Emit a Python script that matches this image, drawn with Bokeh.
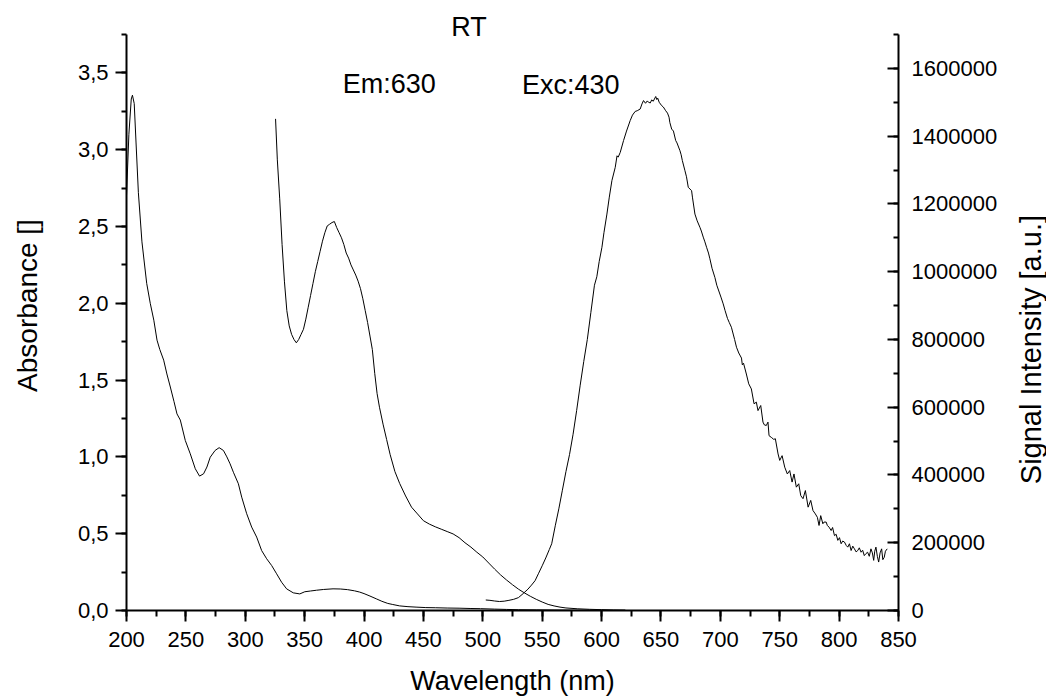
import math
from bokeh.plotting import figure
from bokeh.layouts import row
from bokeh.models import (Range1d, LinearAxis, SingleIntervalTicker,
                          CustomJSTickFormatter, Label)
from bokeh.embed import file_html
from bokeh.resources import INLINE

# ---------------- data ----------------
abs_wl = [200, 202, 204, 205, 206.5, 208, 210, 213, 217, 220, 223, 225.7, 228, 231.3,
          234, 236.9, 240, 242.5, 245.3, 249.5, 253.7, 257.9, 261.5, 264.9, 267.7,
          270.5, 274.6, 278, 281.6, 284.5, 287.2, 290, 294.2, 297, 301.2, 305.4,
          309.6, 313.8, 318, 322.2, 326.4, 330.6, 334.8, 340.4, 345.9, 350.1, 355,
          360, 366, 373.9, 380, 386, 392, 396.3, 400, 405, 410.3, 415, 420, 424.2,
          430, 437, 443.8, 452, 460, 470, 480, 490, 498, 510, 520, 530, 545, 560,
          580, 600, 620]
abs_val = [2.70, 3.10, 3.33, 3.355, 3.30, 3.05, 2.72, 2.40, 2.13, 2.00, 1.89, 1.76,
           1.70, 1.63, 1.54, 1.455, 1.36, 1.28, 1.24, 1.107, 1.02, 0.923, 0.875,
           0.89, 0.934, 0.998, 1.042, 1.06, 1.042, 1.00, 0.955, 0.90, 0.825, 0.738,
           0.63, 0.543, 0.478, 0.39, 0.337, 0.293, 0.239, 0.184, 0.141, 0.115,
           0.108, 0.122, 0.127, 0.132, 0.137, 0.141, 0.140, 0.136, 0.128, 0.120,
           0.110, 0.094, 0.076, 0.060, 0.046, 0.039, 0.030, 0.025, 0.022, 0.019,
           0.018, 0.016, 0.015, 0.013, 0.012, 0.009, 0.007, 0.005, 0.004, 0.003,
           0.002, 0.001, 0.001]

exc_wl = [325.5, 327, 329, 331, 333, 335, 337, 339, 341, 343, 345, 347, 349, 351,
          353, 355, 357, 359, 361, 363, 365, 367, 369, 371, 373, 375, 377, 379,
          381, 383, 385, 387, 389, 391, 393, 395, 397, 399, 401, 403, 405, 407,
          409, 411, 413, 416, 419, 422, 426, 430, 435, 440, 445, 450, 455, 460,
          465, 470, 475, 480, 485, 490, 495, 500, 505, 510, 515, 520, 525, 530,
          535, 540, 545, 550, 555, 560, 565, 570, 580, 590, 600, 610, 620]
exc_val = [1451000, 1330000, 1215000, 1080000, 970000, 885000, 840000, 815000,
           800000, 790000, 800000, 815000, 830000, 860000, 895000, 930000, 965000,
           1000000, 1030000, 1060000, 1090000, 1115000, 1135000, 1140000, 1145000,
           1148000, 1130000, 1115000, 1100000, 1080000, 1055000, 1040000, 1020000,
           1005000, 990000, 972000, 950000, 920000, 885000, 850000, 810000, 770000,
           700000, 640000, 600000, 550000, 505000, 460000, 410000, 375000, 338000,
           305000, 285000, 265000, 255000, 247000, 240000, 233000, 226000, 215000,
           200000, 187000, 172000, 158000, 140000, 122000, 105000, 90000, 76000,
           63000, 52000, 42000, 33000, 25000, 18000, 13500, 10000, 7500, 5000,
           3500, 2500, 1500, 1000]

em_wl = [502.5, 506, 510, 514, 518, 522, 526, 530, 534, 538, 541, 544, 547, 550,
         553, 556, 558, 561, 564, 567, 570, 573, 576, 579, 582, 585, 588, 591,
         594, 596, 598, 600.3, 602, 604.5, 606.5, 608.7, 611.5, 613, 614, 615.7,
         618.5, 621, 624.1, 626, 628.3, 630, 632.5, 634, 635.3, 637, 638.5, 639.5,
         641, 642.2, 643.5, 645.6, 646.5, 647.3, 648.5, 650.6, 652, 654, 655.5,
         656.8, 657.5, 659, 660.5, 662.4, 663.5, 666, 667, 668, 670.2, 671.5, 673,
         675.8, 676.5, 678.6, 680.5, 682.8, 684, 685.6, 687, 688.4, 690, 691.2,
         693, 695.4, 697, 699, 700.5, 702.4, 704, 706, 707.5, 709.3, 710.8, 712,
         713.6, 715.5, 717.8, 718.5, 719.5, 721.9, 723.9, 726.1, 728.4, 730.3,
         731.7, 734, 735.9, 737, 738.7, 740.1, 741, 742.9, 745, 746.3, 748.6, 750,
         752, 754.2, 756.4, 758.4, 760.4, 762, 764, 766, 767.7, 769.6, 771.6,
         773.9, 776.1, 778, 780, 781.7, 783.1, 784.5, 786.3, 787.3, 789.1, 790.1,
         791.5, 793.3, 794.5, 796.1, 797.5, 798.9, 800.3, 801.7, 803, 804.5, 806,
         807.3, 808.7, 810.1, 811.5, 812.9, 814.3, 815.7, 817, 818.5, 819.8,
         821.2, 822.6, 824, 825.4, 826.8, 828, 829.1, 830, 831, 832.2, 833.3,
         834.5, 835.8, 836.8, 838, 839, 840.5]
em_val = [31000, 30000, 28000, 26500, 27500, 30000, 33000, 38000, 50000, 63000,
          75000, 88000, 110000, 132000, 155000, 180000, 197000, 250000, 300000,
          355000, 410000, 460000, 520000, 590000, 665000, 735000, 800000, 880000,
          960000, 985000, 1030000, 1072000, 1115000, 1170000, 1220000, 1269000,
          1308000, 1342000, 1338000, 1352000, 1387000, 1415000, 1446000, 1462000,
          1473000, 1475000, 1480000, 1495000, 1505000, 1497000, 1504000, 1500000,
          1498000, 1507000, 1503000, 1517000, 1508000, 1512000, 1500000, 1490000,
          1486000, 1475000, 1468000, 1456000, 1440000, 1421000, 1415000, 1387000,
          1380000, 1357000, 1345000, 1328000, 1298000, 1280000, 1249000, 1239000,
          1220000, 1170000, 1150000, 1131000, 1120000, 1102000, 1088000, 1072000,
          1055000, 1038000, 1010000, 983000, 960000, 940000, 925000, 905000,
          885000, 862000, 850000, 836000, 816000, 800000, 777000, 760000, 745000,
          725000, 730000, 698000, 669000, 654000, 610000, 615000, 590000, 605000,
          556000, 548000, 546000, 556000, 516000, 511000, 505000, 507000, 462000,
          443000, 457000, 423000, 403000, 413000, 379000, 403000, 364000, 374000,
          339000, 330000, 354000, 305000, 325000, 295000, 285000, 275000, 251000,
          280000, 256000, 261000, 261000, 251000, 246000, 236000, 245000, 221000,
          225000, 207000, 215000, 197000, 205000, 202000, 192000, 187000, 197000,
          177000, 190000, 182000, 173000, 177000, 185000, 172000, 178000, 162000,
          168000, 172000, 160000, 182000, 170000, 148000, 175000, 187000, 160000,
          143000, 170000, 182000, 150000, 157000, 175000, 182000]

x_ticks_interval = 50
abs_axis_max = 3.75
sig_axis_max = 1.7e6
sig_title = "Signal Intensity [a.u.]"

FONT = "Liberation Sans"
W, H = 1046, 698
TITLE_STRIP = 46          # narrow strip on the right that carries the rotated title

# frame: top at canvas top, bottom at y=610 -> ranges extended so axes stop at max
frame_h = 610.0
axis_px = 576.0
abs_top = abs_axis_max * frame_h / axis_px
sig_top = sig_axis_max * frame_h / axis_px
sig_title_mid = 770000    # vertical centre of the right-hand title, in signal units

p = figure(width=W - TITLE_STRIP, height=H, output_backend="svg", toolbar_location=None,
           x_range=Range1d(200, 850), y_range=Range1d(0, abs_top),
           min_border_left=126, min_border_right=99, min_border_top=0,
           min_border_bottom=88, outline_line_color=None,
           background_fill_color="white", border_fill_color="white")
p.xgrid.visible = False
p.ygrid.visible = False
p.extra_y_ranges = {"sig": Range1d(0, sig_top)}

p.line(abs_wl, abs_val, line_color="black", line_width=1)
p.line(exc_wl, exc_val, y_range_name="sig", line_color="black", line_width=1)
p.line(em_wl, em_val, y_range_name="sig", line_color="black", line_width=1)

xa = p.xaxis[0]
xa.ticker = SingleIntervalTicker(interval=x_ticks_interval, num_minor_ticks=2)
xa.axis_label = "Wavelength (nm)"
xa.major_tick_out = 11
xa.major_tick_in = 0
xa.minor_tick_out = 6
xa.minor_tick_in = 0
xa.major_label_standoff = 10
xa.axis_label_standoff = 16

ya = p.yaxis[0]
ya.ticker = SingleIntervalTicker(interval=0.5, num_minor_ticks=2)
ya.bounds = (0, abs_axis_max)
ya.formatter = CustomJSTickFormatter(code="return tick.toFixed(1).replace('.', ',');")
ya.axis_label = "Absorbance []"
ya.major_tick_out = 11
ya.major_tick_in = 0
ya.minor_tick_out = 5
ya.minor_tick_in = 0
ya.major_label_standoff = 7
ya.axis_label_standoff = 32

ra = LinearAxis(y_range_name="sig",
                ticker=SingleIntervalTicker(interval=200000, num_minor_ticks=2),
                formatter=CustomJSTickFormatter(code="return tick.toFixed(0);"))
ra.bounds = (0, sig_axis_max)
ra.major_tick_out = 0
ra.major_tick_in = 11
ra.minor_tick_out = 0
ra.minor_tick_in = 5
ra.major_label_standoff = 13
p.add_layout(ra, "right")

for ax in (xa, ya, ra):
    ax.axis_line_width = 2
    ax.axis_line_color = "black"
    ax.major_tick_line_width = 2
    ax.minor_tick_line_width = 2
    ax.major_tick_line_color = "black"
    ax.minor_tick_line_color = "black"
    ax.major_label_text_font = FONT
    ax.major_label_text_font_size = "22px"
    ax.major_label_text_color = "black"
    ax.axis_label_text_font = FONT
    ax.axis_label_text_font_style = "normal"
    ax.axis_label_text_color = "black"
xa.axis_label_text_font_size = "27px"
ya.axis_label_text_font_size = "28px"

# texts inside the chart
def add_text(txt, x, y):
    p.add_layout(Label(x=x, y=y, text=txt, text_font=FONT,
                       text_font_size="27px", text_align="left",
                       text_baseline="alphabetic", text_color="black"))

add_text("RT", 473.4, 3.797)
add_text("Em:630", 382.0, 3.426)
add_text("Exc:430", 533.0, 3.419)

# right strip with the rotated right-axis title; its frame lines up with the main one,
# so the strip uses the same signal range vertically
p2 = figure(width=TITLE_STRIP, height=H, output_backend="svg", toolbar_location=None,
            x_range=Range1d(0, TITLE_STRIP), y_range=Range1d(0, sig_top),
            min_border=0, outline_line_color=None,
            background_fill_color="white", border_fill_color="white")
p2.axis.visible = False
p2.grid.visible = False
p2.add_layout(Label(x=30, y=sig_title_mid, text=sig_title, angle=math.pi / 2,
                    text_font=FONT, text_font_size="29px", text_align="center",
                    text_baseline="middle", text_color="black"))

layout = row(p, p2, spacing=0)
open("out.html", "w").write(file_html(layout, INLINE))
